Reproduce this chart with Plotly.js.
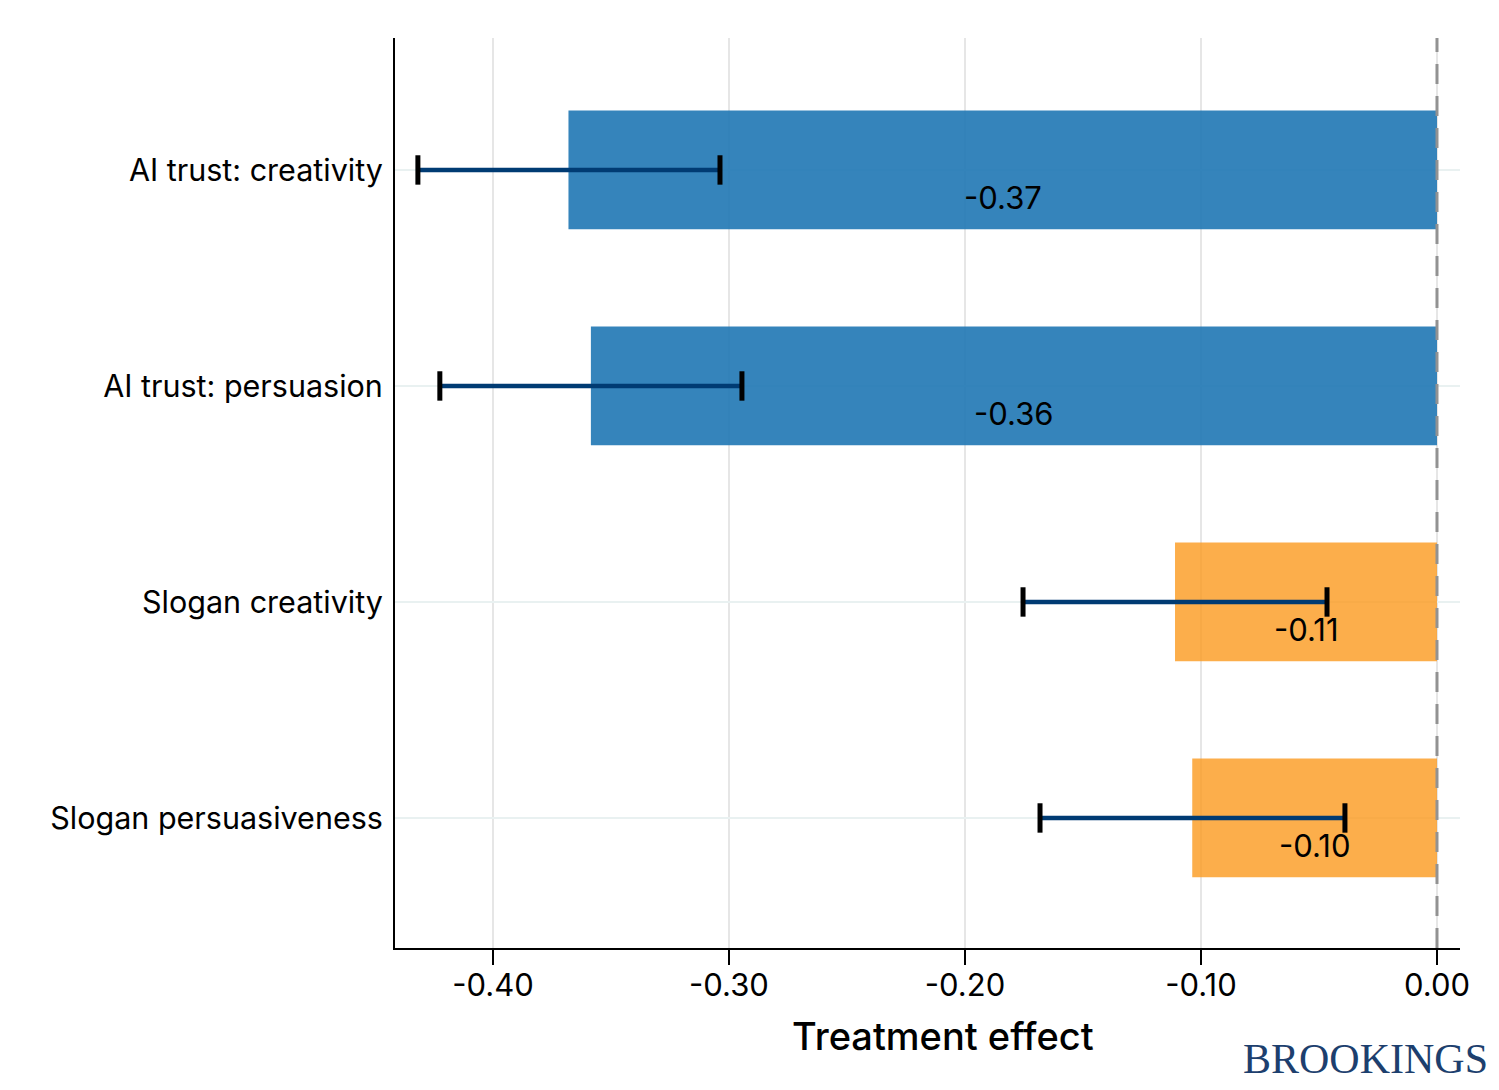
<!DOCTYPE html>
<html>
<head>
<meta charset="utf-8">
<script src="https://cdn.plot.ly/plotly-3.0.1.min.js"></script>
<style>
html,body{margin:0;padding:0;background:#fff;}
#chart{width:1499px;height:1090px;}
</style>
</head>
<body>
<div id="chart"></div>
<script>
const categories = ["AI trust: creativity", "AI trust: persuasion", "Slogan creativity", "Slogan persuasiveness"];
const effects = [-0.368, -0.3585, -0.111, -0.1037];
const ciLow = [-0.4318, -0.4225, -0.1754, -0.1682];
const ciHigh = [-0.3038, -0.2945, -0.0466, -0.0390];
const labels = ["-0.37", "-0.36", "-0.11", "-0.10"];
const groupColors = ["rgba(31,119,180,0.9)", "rgba(31,119,180,0.9)", "rgba(251,154,30,0.8)", "rgba(251,154,30,0.8)"];
const tickVals = [-0.4, -0.3, -0.2, -0.1, 0.0];
const tickText = ["-0.40", "-0.30", "-0.20", "-0.10", "0.00"];

const FONT = "Inter, 'Noto Sans', sans-serif";

const traces = [
  {
    type: "bar", orientation: "h",
    x: effects, y: categories,
    width: 0.55,
    marker: {color: groupColors, line: {width: 0}},
    hoverinfo: "skip", showlegend: false
  }
];
categories.forEach((c, i) => {
  traces.push({
    type: "scatter", mode: "lines",
    x: [ciLow[i], ciHigh[i]], y: [c, c],
    line: {color: "#003b73", width: 4.5},
    hoverinfo: "skip", showlegend: false
  });
});
traces.push({
  type: "scatter", mode: "markers",
  x: ciLow.concat(ciHigh), y: categories.concat(categories),
  marker: {symbol: "line-ns", size: 21, line: {color: "#000", width: 5}, color: "#000"},
  hoverinfo: "skip", showlegend: false
});

const annotations = categories.map((c, i) => ({
  x: effects[i] / 2, y: c, xref: "x", yref: "y",
  text: labels[i], showarrow: false, yshift: -28,
  font: {family: FONT, size: 31, color: "#000"}
}));
annotations.push({
  xref: "paper", yref: "paper", x: 0.5146, y: -0.0967,
  xanchor: "center", yanchor: "middle",
  text: "Treatment effect", showarrow: false,
  font: {family: FONT, size: 38, color: "#000", weight: 500}
});
annotations.push({
  xref: "paper", yref: "paper", x: 1.028, y: -0.095,
  xanchor: "right", yanchor: "top",
  text: "BROOKINGS", showarrow: false,
  font: {family: "'Liberation Serif', 'Times New Roman', serif", size: 42, color: "#1d3f6e"}
});

const layout = {
  width: 1499, height: 1090,
  margin: {l: 395, r: 39, t: 38, b: 142},
  paper_bgcolor: "#fff", plot_bgcolor: "#fff",
  font: {family: FONT, color: "#000"},
  xaxis: {
    range: [-0.4415, 0.00975],
    tickvals: tickVals, ticktext: tickText,
    ticks: "outside", ticklen: 15, tickwidth: 2, tickcolor: "#000",
    showline: true, linecolor: "#000", linewidth: 2,
    showgrid: true, gridcolor: "#e6e6e6", gridwidth: 1.5,
    zeroline: false,
    ticklabelstandoff: -6,
    tickfont: {family: FONT, size: 31, color: "#000"}
  },
  yaxis: {
    type: "category",
    categoryorder: "array", categoryarray: categories,
    range: [3.602, -0.611],
    showline: true, linecolor: "#000", linewidth: 2,
    showgrid: true, gridcolor: "#e9f1f1", gridwidth: 2,
    zeroline: false, ticks: "",
    ticklabelstandoff: 4,
    tickfont: {family: FONT, size: 30.5, color: "#000"}
  },
  shapes: [{
    type: "line", xref: "x", yref: "paper", x0: 0, x1: 0, y0: 0, y1: 1,
    line: {color: "#929292", width: 3, dash: "20px,12px"}
  }],
  annotations: annotations
};

Plotly.newPlot("chart", traces, layout, {displayModeBar: false, staticPlot: true});
</script>
</body>
</html>
